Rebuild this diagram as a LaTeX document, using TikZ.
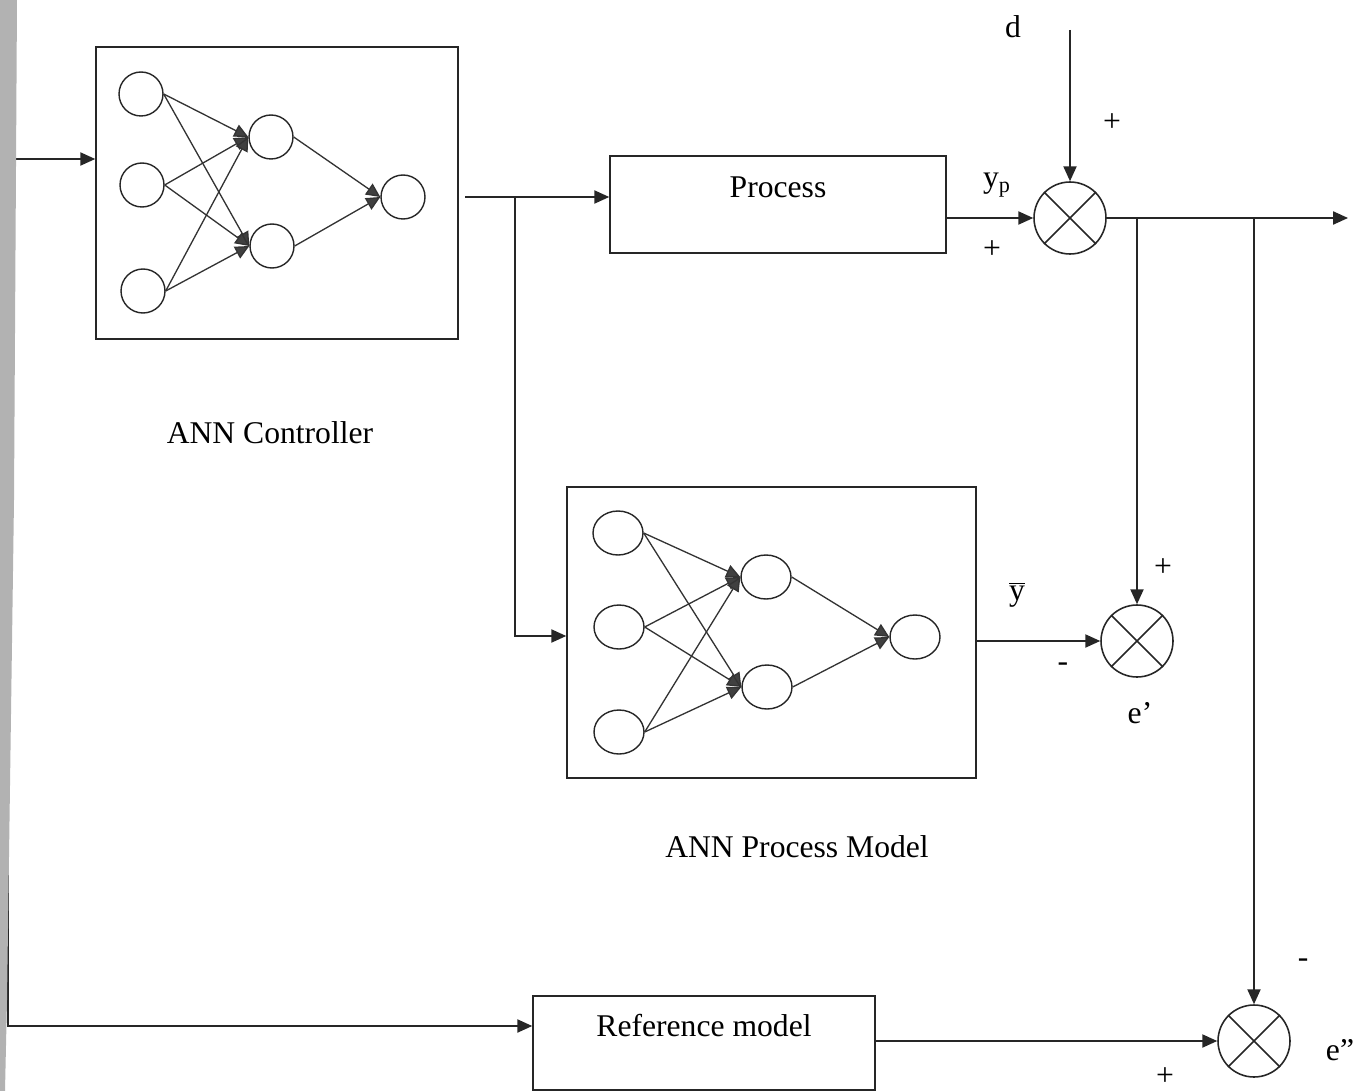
\documentclass[tikz,border=0pt]{standalone}
\usepackage{fontspec}
\setmainfont{Liberation Serif}
\usetikzlibrary{arrows.meta,shapes.geometric,calc}

\tikzset{
  wire/.style={draw=black!85, line width=0.9pt},
  flow/.style={wire, -{Triangle[length=8.5pt,width=7.5pt]}},
  syn/.style={draw=black!80, line width=0.75pt, -{Triangle[length=8pt,width=7.5pt,fill=black!75]}},
  blockbox/.style={draw=black!85, line width=0.9pt, rectangle, inner sep=0pt},
  neuronA/.style={draw=black!85, line width=0.8pt, circle, minimum size=0.88cm, inner sep=0pt},
  neuronB/.style={draw=black!85, line width=0.8pt, ellipse, minimum width=1.0cm, minimum height=0.88cm, inner sep=0pt},
  sumj/.style={draw=black!85, line width=0.9pt, circle, minimum size=1.44cm, inner sep=0pt},
  lbl/.style={inner sep=0pt, font=\fontsize{18}{21}\selectfont},
}

\begin{document}
\begin{tikzpicture}[x=0.02cm, y=-0.02cm]
\useasboundingbox (0,0) rectangle (1362,1091);

% ---------- blocks ----------
\node[blockbox, minimum width=7.24cm, minimum height=5.84cm] (ctrl) at (277,193) {};
\node[blockbox, minimum width=8.18cm, minimum height=5.82cm] (pm) at (771.5,632.5) {};
\node[blockbox, minimum width=6.72cm, minimum height=1.94cm] (proc) at (778,204.5) {};
\node[blockbox, minimum width=6.84cm, minimum height=1.88cm] (ref) at (704,1043) {};

\node[lbl] (tproc) at (778,187) {Process};
\node[lbl] (tref) at (704,1026) {Reference model};
\node[lbl] (tctrl) at (270,433) {ANN Controller};
\node[lbl] (tpm) at (797,847) {ANN Process Model};

% ---------- controller network ----------
\node[neuronA] (c1) at (141,94) {};
\node[neuronA] (c2) at (142,185) {};
\node[neuronA] (c3) at (143,291) {};
\node[neuronA] (ch1) at (271,137) {};
\node[neuronA] (ch2) at (272,246) {};
\node[neuronA] (co) at (403,197) {};
\foreach \i in {c1,c2,c3}{
  \foreach \h in {ch1,ch2}{ \draw[syn] (\i.east) -- (\h.west); }
}
\draw[syn] (ch1.east) -- (co.west);
\draw[syn] (ch2.east) -- (co.west);

% ---------- process model network ----------
\node[neuronB] (m1) at (618,533) {};
\node[neuronB] (m2) at (619,627) {};
\node[neuronB] (m3) at (619,732) {};
\node[neuronB] (mh1) at (766,577) {};
\node[neuronB] (mh2) at (767,687) {};
\node[neuronB] (mo) at (915,637) {};
\foreach \i in {m1,m2,m3}{
  \foreach \h in {mh1,mh2}{ \draw[syn] (\i.east) -- (\h.west); }
}
\draw[syn] (mh1.east) -- (mo.west);
\draw[syn] (mh2.east) -- (mo.west);

% ---------- summing junctions ----------
\node[sumj] (sum1) at (1070,218) {};
\node[sumj] (sum2) at (1137,641) {};
\node[sumj] (sum3) at (1254,1041) {};
\foreach \s in {sum1,sum2,sum3}{
  \draw[wire] (\s.45) -- (\s.225) (\s.135) -- (\s.315);
}

% ---------- signal lines ----------
\coordinate (in) at (8,159);
\coordinate (corner) at (8,1026);
\coordinate (cout) at (465,197);
\coordinate (b1) at (515,197);
\coordinate (b1bot) at (515,636);
\coordinate (dtop) at (1070,30);
\coordinate (br1) at (1137,218);
\coordinate (br2) at (1254,218);
\coordinate (out) at (1348,218);

\draw[flow] (in) -- (in -| ctrl.west);
\draw[flow] (in) -- (corner) -- (corner -| ref.west);
\draw[flow] (cout) -- (cout -| proc.west);
\draw[flow] (b1) -- (b1bot) -- (b1bot -| pm.west);
\draw[flow] (proc.east |- sum1.west) -- (sum1.west);
\draw[flow] (dtop) -- (sum1.north);
\draw[flow] (sum1.east) -- (out);
\draw[flow] (br1) -- (sum2.north);
\draw[flow] (br2) -- (sum3.north);
\draw[flow] (pm.east |- sum2.west) -- (sum2.west);
\draw[flow] (ref.east |- sum3.west) -- (sum3.west);

% ---------- signs and signal names ----------
\node[lbl] (ld) at (1013,27) {d};
\node[lbl] (lyp) at (997,185) {y\textsubscript{p}};
\node[lbl] (p1) at (1112,123) {+};
\node[lbl] (p2) at (992,250) {+};
\node[lbl] (lybar) at (1017,595) {$\overline{\mbox{y}}$};
\node[lbl] (p3) at (1163,568) {+};
\node[lbl] (m1s) at (1063,667) {-};
\node[lbl] (le1) at (1140,713) {e’};
\node[lbl] (m2s) at (1303,963) {-};
\node[lbl] (le2) at (1340,1050) {e”};
\node[lbl] (p4) at (1165,1077) {+};

% ---------- shaded strip along the left margin ----------
\fill[gray!60] (0,0) -- (17,0) -- (14,500) -- (7,1000) -- (5,1091) -- (0,1091) -- cycle;
\end{tikzpicture}
\end{document}
